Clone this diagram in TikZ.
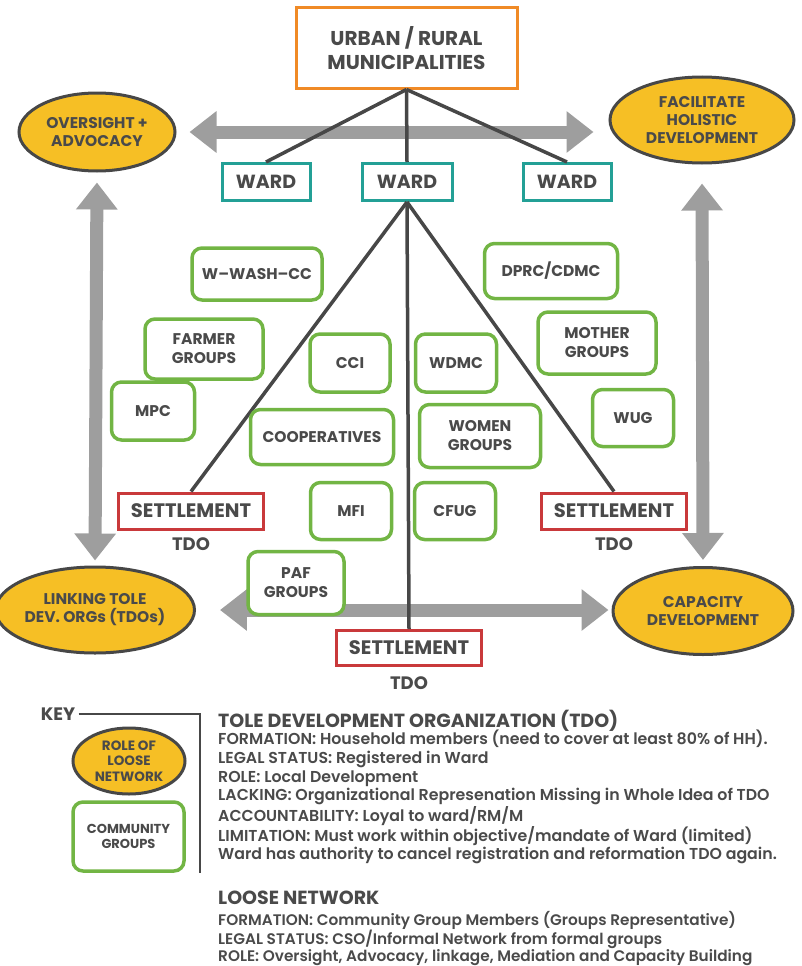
\documentclass[tikz,border=0pt]{standalone}
\usepackage{fontspec}
\setmainfont{Poppins}
\newfontfamily\notefont{Poppins SemiBold}
\usetikzlibrary{arrows.meta,shapes.geometric}

\definecolor{inkgray}{HTML}{4A4A4A}
\definecolor{linegray}{HTML}{474747}
\definecolor{arrowgray}{HTML}{9E9E9E}
\definecolor{roleyellow}{HTML}{F6BF25}
\definecolor{groupgreen}{HTML}{72B544}
\definecolor{wardteal}{HTML}{23A096}
\definecolor{settlered}{HTML}{C9393B}
\definecolor{muniorange}{HTML}{F08A26}

\begin{document}
\begin{tikzpicture}[
  x=1pt, y=-1pt,
  every node/.style={text=inkgray},
  muni/.style={draw=muniorange, line width=3pt, fill=white, align=center, minimum width=221pt, minimum height=80pt,
    font=\bfseries\fontsize{20}{24}\selectfont},
  ward/.style={draw=wardteal, line width=3pt, fill=white, minimum width=88pt, minimum height=37pt,
    font=\bfseries\fontsize{19}{22}\selectfont},
  settle/.style={draw=settlered, line width=3pt, fill=white, minimum width=145pt, minimum height=36pt,
    font=\bfseries\fontsize{19.5}{22}\selectfont},
  grp/.style={draw=groupgreen, line width=3.5pt, fill=white, rounded corners=10pt, align=center, inner sep=2pt,
    font=\bfseries\fontsize{15.5}{19}\selectfont},
  role/.style={ellipse, draw=linegray, line width=3pt, fill=roleyellow, align=center, inner sep=0pt,
    font=\bfseries\fontsize{15.5}{18}\selectfont},
  tdo/.style={font=\bfseries\fontsize{18}{20}\selectfont},
  link/.style={draw=linegray, line width=3.5pt},
  arr/.style={draw=arrowgray, line width=13pt, {Triangle[width=40pt,length=27pt]}-{Triangle[width=40pt,length=27pt]}},
  note/.style={anchor=north west, align=left, inner sep=0pt}
]
\useasboundingbox (0,0) rectangle (801,966);

% roles of the loose network
\node[role, minimum width=156pt, minimum height=78pt] (oversight) at (97,132) {OVERSIGHT +\\ADVOCACY};
\node[role, minimum width=184pt, minimum height=86pt] (facilitate) at (702,120) {FACILITATE\\HOLISTIC\\DEVELOPMENT};
\node[role, minimum width=166pt, minimum height=86pt] (linking) at (95,610) {LINKING TOLE\\DEV. ORGs (TDOs)};
\node[role, minimum width=180pt, minimum height=87pt] (capacity) at (703,611) {CAPACITY\\DEVELOPMENT};

\draw[arr, shorten <=13pt, shorten >=15pt] (oversight.east) -- (oversight.east -| facilitate.west);
\draw[arr, shorten <=24pt, shorten >=3pt] (linking.east) -- (linking.east -| capacity.west);
\draw[arr, shorten <=10pt, shorten >=5pt] (oversight.south) -- (linking.north);
\draw[arr, shorten <=19pt, shorten >=6pt] (facilitate.south) -- (capacity.north);

% government tree
\node[muni] (muni) at (406.5,48) {URBAN / RURAL\\MUNICIPALITIES};
\node[ward] (wardL) at (266,182) {WARD};
\node[ward, minimum width=90pt] (wardC) at (407,182) {WARD};
\node[ward] (wardR) at (567,182) {WARD};
\node[settle] (setL) at (191,511) {SETTLEMENT};
\node[settle] (setR) at (614,511) {SETTLEMENT};
\node[settle, minimum height=35pt] (setB) at (409,648) {SETTLEMENT};
\node[tdo] (tdoL) at (191,544) {TDO};
\node[tdo] (tdoR) at (614,544) {TDO};
\node[tdo] (tdoB) at (409,683) {TDO};

\draw[link] (muni.south) -- (wardL.north);
\draw[link] (muni.south) -- (wardC.north);
\draw[link] (muni.south) -- (wardR.north);
\draw[link] (wardC.south) -- (setL.north);
\draw[link] (wardC.south) -- (setB.north);
\draw[link] (wardC.south) -- (setR.north);

% community groups
\node[grp, minimum width=130pt, minimum height=52pt] (wash) at (257,274) {W\textendash WASH\textendash CC};
\node[grp, minimum width=133pt, minimum height=55pt] (dprc) at (551,271) {DPRC/CDMC};
\node[grp, minimum width=118pt, minimum height=60pt] (farmer) at (204,349) {FARMER\\GROUPS};
\node[grp, minimum width=80pt, minimum height=58pt] (cci) at (350,363) {CCI};
\node[grp, minimum width=81pt, minimum height=58pt] (wdmc) at (456,363) {WDMC};
\node[grp, minimum width=118pt, minimum height=62pt] (mother) at (597,343) {MOTHER\\GROUPS};
\node[grp, minimum width=83pt, minimum height=58pt] (mpc) at (153,411) {MPC};
\node[grp, minimum width=81pt, minimum height=57pt] (wug) at (633,418) {WUG};
\node[grp, minimum width=143pt, minimum height=55pt] (coop) at (322,437) {COOPERATIVES};
\node[grp, minimum width=121pt, minimum height=63pt] (women) at (480,436) {WOMEN\\GROUPS};
\node[grp, minimum width=81pt, minimum height=57pt] (mfi) at (351,511) {MFI};
\node[grp, minimum width=81pt, minimum height=57pt] (cfug) at (455,511) {CFUG};
\node[grp, minimum width=96pt, minimum height=63pt] (paf) at (296,583) {PAF\\GROUPS};

% key
\node[font=\bfseries\fontsize{18}{20}\selectfont] (keyhead) at (58,714) {KEY};
\coordinate (keycorner) at (200,714);
\coordinate (keyend) at (200,873);
\draw[draw=linegray, line width=2pt] (keyhead.east) -- (keycorner) -- (keyend);
\node[role, minimum width=112pt, minimum height=66pt, font=\bfseries\fontsize{13.5}{15.5}\selectfont] (keyrole) at (129,761) {ROLE OF\\LOOSE\\NETWORK};
\node[grp, minimum width=111pt, minimum height=69pt, font=\bfseries\fontsize{13}{15.5}\selectfont] (keygrp) at (128.5,836.5) {COMMUNITY\\GROUPS};

% notes
\node[note, font=\bfseries\fontsize{19}{21}\selectfont] (tdohead) at (218,710) {TOLE DEVELOPMENT ORGANIZATION (TDO)};
\node[note, font=\notefont\fontsize{15.8}{18.7}\selectfont] (tdobody) at (218,730) {%
FORMATION: Household members (need to cover at least 80\% of HH).\\
LEGAL STATUS: Registered in Ward\\
ROLE: Local Development\\
LACKING: Organizational Represenation Missing in Whole Idea of TDO\\
ACCOUNTABILITY: Loyal to ward/RM/M\\
LIMITATION: Must work within objective/mandate of Ward (limited)\\
Ward has authority to cancel registration and reformation TDO again.};
\node[note, font=\bfseries\fontsize{19}{21}\selectfont] (loosehead) at (218,891) {LOOSE NETWORK};
\node[note, font=\notefont\fontsize{15.3}{16.8}\selectfont] (loosebody) at (218,911) {%
FORMATION: Community Group Members (Groups Representative)\\
LEGAL STATUS: CSO/Informal Network from formal groups\\
ROLE: Oversight, Advocacy, linkage, Mediation and Capacity Building};
\end{tikzpicture}
\end{document}
